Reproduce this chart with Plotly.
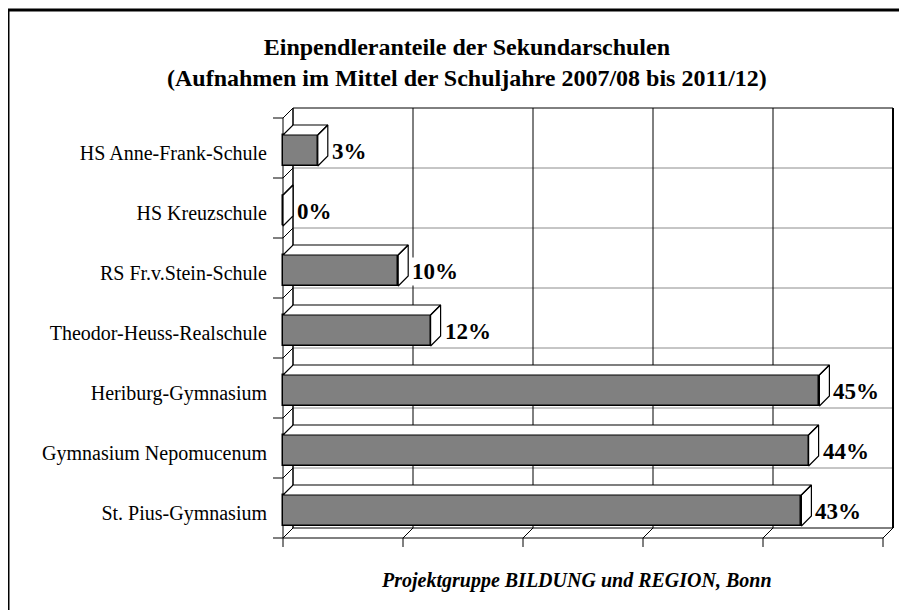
import plotly.graph_objects as go

# ---------------- data ----------------
categories = [
    "HS Anne-Frank-Schule",
    "HS Kreuzschule",
    "RS Fr.v.Stein-Schule",
    "Theodor-Heuss-Realschule",
    "Heriburg-Gymnasium",
    "Gymnasium Nepomucenum",
    "St. Pius-Gymnasium",
]
values = [2.9, 0.0, 9.6, 12.3, 44.7, 43.8, 43.2]
value_labels = ["3%", "0%", "10%", "12%", "45%", "44%", "43%"]
x_ticks = [0, 10, 20, 30, 40, 50]
title_lines = [
    "Einpendleranteile der Sekundarschulen",
    "(Aufnahmen im Mittel der Schuljahre 2007/08 bis 2011/12)",
]
footer_text = "Projektgruppe BILDUNG und REGION, Bonn"

# ---------------- geometry / style ----------------
FONT = "Liberation Serif"
OFF = 8                      # default page body margin
FIG_W, FIG_H = 907 - OFF, 610 - OFF
PX_X = 12.0          # pixels per percent
PX_Y = 60.0          # pixels per category band
DX = 10 / PX_X       # 3D depth offset (x)
DY = 10 / PX_Y       # 3D depth offset (y, upward)
L, R, T, B = 268 - OFF, 6, 100 - OFF, 60
W = FIG_W - L - R
H = FIG_H - T - B
XMIN = -15 / PX_X
XMAX = XMIN + W / PX_X
YTOP = -48 / PX_Y
YBOT = YTOP + H / PX_Y
n = len(categories)
idx = list(range(n))
XMAXV = x_ticks[-1]
BAR_TOP = -0.5 + 17 / PX_Y
BAR_BOT = -0.5 + 48 / PX_Y
BAR_FILL = "#808080"
GRID_GRAY = "#8c8c8c"


def px_to_paper_x(px):
    return (px - OFF - L) / W


def px_to_paper_y(py):
    return 1 - (py - OFF - T) / H


shapes = []


def line(x0, y0, x1, y1, color="black", width=1, layer="below"):
    shapes.append(dict(type="line", xref="x", yref="y", x0=x0, y0=y0, x1=x1, y1=y1,
                       line=dict(color=color, width=width), layer=layer))


back_top = -0.5 - DY
back_bot = n - 0.5 - DY
# back wall horizontal grid lines (category boundaries)
for k in range(1, n):
    line(DX, k - 0.5 - DY, XMAXV + DX, k - 0.5 - DY, color=GRID_GRAY)
# back wall vertical grid lines
for t in x_ticks:
    line(t + DX, back_top, t + DX, back_bot, width=2 if t == XMAXV else 1)
# back wall top / bottom / left edges
line(DX, back_top, XMAXV + DX, back_top)
line(DX, back_bot, XMAXV + DX, back_bot)
line(DX, back_top, DX, back_bot)
# side wall diagonals (category boundaries)
for k in range(n + 1):
    line(0, k - 0.5, DX, k - 0.5 - DY)
# floor diagonals (value ticks)
for t in x_ticks:
    line(t, n - 0.5, t + DX, n - 0.5 - DY)
# front axis lines
line(0, -0.5, 0, n - 0.5)
line(0, n - 0.5, XMAXV, n - 0.5)
# ticks
for t in x_ticks:
    line(t, n - 0.5, t, n - 0.5 + 9 / PX_Y)
for k in range(n + 1):
    line(-10 / PX_X, k - 0.5, 0, k - 0.5)

# outer frame (extends beyond the picture at right and bottom)
shapes.append(dict(type="rect", xref="paper", yref="paper",
                   x0=px_to_paper_x(8), x1=px_to_paper_x(930),
                   y0=px_to_paper_y(10), y1=px_to_paper_y(640),
                   line=dict(color="black", width=3), fillcolor="rgba(0,0,0,0)",
                   layer="above"))

fig = go.Figure()

# front faces of the bars
fig.add_trace(go.Bar(
    x=values, y=idx, orientation="h",
    width=BAR_BOT - BAR_TOP, offset=BAR_TOP,
    marker=dict(color=BAR_FILL, line=dict(color="black", width=1.5)),
    hoverinfo="skip", showlegend=False,
))

# top and right faces (3D) computed from the values
fx, fy = [], []
for i, v in zip(idx, values):
    yt = i + BAR_TOP
    yb = i + BAR_BOT
    fx += [0, v, v + DX, DX, 0, None]
    fy += [yt, yt, yt - DY, yt - DY, yt, None]
    fx += [v, v + DX, v + DX, v, v, None]
    fy += [yt, yt - DY, yb - DY, yb, yt, None]
fig.add_trace(go.Scatter(
    x=fx, y=fy, mode="lines", fill="toself", fillcolor="white",
    line=dict(color="black", width=1.2), hoverinfo="skip", showlegend=False,
))

annotations = []
for i, v, lab in zip(idx, values, value_labels):
    annotations.append(dict(
        x=v + DX, y=i + 0.06, xref="x", yref="y", text="<b>%s</b>" % lab,
        showarrow=False, xanchor="left", yanchor="middle", xshift=2,
        bgcolor="white", borderpad=1,
        font=dict(family=FONT, size=23, color="black"),
    ))

annotations.append(dict(
    x=px_to_paper_x(467), y=px_to_paper_y(62.5), xref="paper", yref="paper",
    text="<b>%s</b><br><b>%s</b>" % tuple(title_lines), showarrow=False,
    xanchor="center", yanchor="middle",
    font=dict(family=FONT, size=24, color="black"),
))
annotations.append(dict(
    x=px_to_paper_x(576), y=px_to_paper_y(580), xref="paper", yref="paper",
    text="<b><i>%s</i></b>" % footer_text, showarrow=False,
    xanchor="center", yanchor="middle",
    font=dict(family=FONT, size=20, color="black"),
))

fig.update_layout(
    width=FIG_W, height=FIG_H,
    margin=dict(l=L, r=R, t=T, b=B, pad=0),
    paper_bgcolor="white", plot_bgcolor="white",
    shapes=shapes, annotations=annotations,
    bargap=0, showlegend=False,
    xaxis=dict(range=[XMIN, XMAX], visible=False, fixedrange=True),
    yaxis=dict(
        range=[YBOT, YTOP], tickvals=[i + 0.08 for i in idx], ticktext=categories,
        ticks="", showline=False, showgrid=False, zeroline=False,
        tickfont=dict(family=FONT, size=20, color="black"), fixedrange=True,
    ),
)

fig.write_html("out.html")
